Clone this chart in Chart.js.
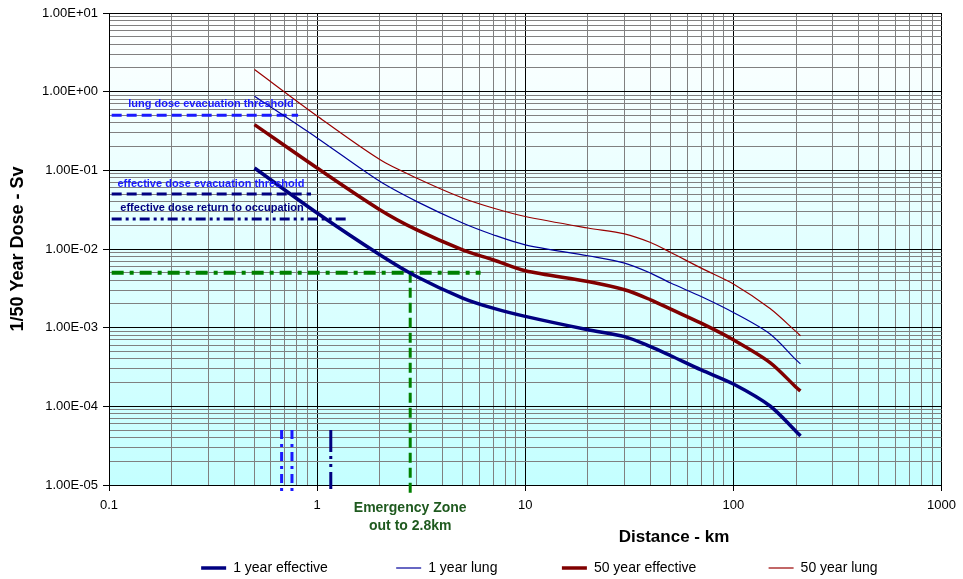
<!DOCTYPE html>
<html>
<head>
<meta charset="utf-8">
<script src="https://cdn.jsdelivr.net/npm/chart.js@4.4.0/dist/chart.umd.min.js"></script>
<style>
  body { margin: 0; background: #fff; }
  canvas { display: block; }
</style>
</head>
<body>
<canvas id="doseChart" width="963" height="579"></canvas>
<script>
// distances (km) and doses (Sv)
var distKm = [0.5, 1, 2, 3, 5, 7, 10, 20, 30, 40, 50, 70, 100, 150, 200, 210];
var oneYearEffective = [0.107, 0.0287, 0.00845, 0.00447, 0.00238, 0.00177, 0.00139, 9.4e-4, 7.7e-4, 5.75e-4, 4.4e-4, 2.9e-4, 1.92e-4, 1.01e-4, 4.8e-5, 4.2e-5];
var oneYearLung = [0.873, 0.258, 0.0724, 0.0403, 0.0214, 0.0152, 0.0113, 0.0082, 0.00662, 0.00494, 0.00369, 0.00249, 0.00156, 8.3e-4, 3.9e-4, 3.47e-4];
var fiftyYearEffective = [0.381, 0.107, 0.0316, 0.0176, 0.00977, 0.0073, 0.00528, 0.00386, 0.00303, 0.00226, 0.00172, 0.00114, 7.0e-4, 3.6e-4, 1.75e-4, 1.57e-4];
var fiftyYearLung = [1.91, 0.49, 0.137, 0.080, 0.0445, 0.0332, 0.0259, 0.0185, 0.0156, 0.0121, 0.00904, 0.00571, 0.0036, 1.75e-3, 8.9e-4, 7.9e-4];

var seriesNames = ['1 year effective', '1 year lung', '50 year effective', '50 year lung'];

// thresholds and markers
var lungEvacThreshold = 0.5;
var effEvacThreshold = 0.05;
var returnThreshold = 0.024;
var emergencyDose = 0.005;
var emergencyKm = 2.8;
var thresholdStartKm = 0.103;
var lungEvacEndKm = 0.81;
var effEvacEndKm = 0.935;
var returnEndKm = 1.42;
var emergencyLineEndKm = 6.1;
var lungMarkersKm = [0.675, 0.757];
var returnMarkerKm = 1.163;
var markerTop = 5e-5;
var markerBottom = 7.5e-6;

var xTickLabels = ['0.1', '1', '10', '100', '1000'];

function pts(xs, ys) {
    return xs.map(function(x, i) { return {x: x, y: ys[i]}; });
}

function isMajor(v) {
    var l = Math.log10(v);
    return Math.abs(l - Math.round(l)) < 1e-6;
}

function logTicks(lo, hi) {
    var out = [];
    for (var e = lo; e < hi; e++) {
        for (var m = 1; m < 10; m++) {
            out.push({value: Number((m * Math.pow(10, e)).toPrecision(6))});
        }
    }
    out.push({value: Math.pow(10, hi)});
    return out;
}

function sciLabel(v) {
    var e = Math.round(Math.log10(v));
    return '1.00E' + (e < 0 ? '-' : '+') + String(Math.abs(e)).padStart(2, '0');
}

var FONT = '"Liberation Sans", Arial, sans-serif';

var decor = {
    id: 'decor',
    beforeDraw: function(chart) {
        var ctx = chart.ctx, a = chart.chartArea;
        ctx.save();
        ctx.fillStyle = '#fff';
        ctx.fillRect(0, 0, chart.width, chart.height);
        var g = ctx.createLinearGradient(0, a.top, 0, a.bottom);
        g.addColorStop(0, '#ffffff');
        g.addColorStop(1, '#c4ffff');
        ctx.fillStyle = g;
        ctx.fillRect(a.left, a.top, a.right - a.left, a.bottom - a.top);
        ctx.restore();
    },
    afterDraw: function(chart) {
        var ctx = chart.ctx, xs = chart.scales.x, ys = chart.scales.y;
        ctx.save();
        ctx.textAlign = 'center';
        ctx.textBaseline = 'middle';
        ctx.font = 'bold 11px ' + FONT;
        ctx.fillStyle = '#1a1aff';
        ctx.fillText('lung dose evacuation threshold', 211, ys.getPixelForValue(lungEvacThreshold) - 11);
        ctx.fillText('effective dose evacuation threshold', 211, ys.getPixelForValue(effEvacThreshold) - 10);
        ctx.fillStyle = '#000080';
        ctx.fillText('effective dose return to occupation', 212, ys.getPixelForValue(returnThreshold) - 11);

        ctx.font = 'bold 14px ' + FONT;
        ctx.fillStyle = '#1f5a1f';
        var ex = xs.getPixelForValue(emergencyKm);
        ctx.fillText('Emergency Zone', ex, 508);
        ctx.fillText('out to 2.8km', ex, 526);

        ctx.font = 'bold 17px ' + FONT;
        ctx.fillStyle = '#000';
        ctx.fillText('Distance - km', 674, 537);
        ctx.restore();
    }
};

function gridColor(c) {
    return c.tick && isMajor(c.tick.value) ? '#000' : '#808080';
}
function tickColor(c) {
    return c.tick && isMajor(c.tick.value) ? '#000' : 'rgba(0,0,0,0)';
}

// trailing spaces widen each legend entry to the spacing of the original
var legendPad = [15, 14, 16, 15];

var ctx = document.getElementById('doseChart');
new Chart(ctx, {
    type: 'line',
    data: {
        datasets: [
            {label: seriesNames[0], data: pts(distKm, oneYearEffective), borderColor: '#000080', borderWidth: 3.5},
            {label: seriesNames[1], data: pts(distKm, oneYearLung), borderColor: '#00009a', borderWidth: 1.2},
            {label: seriesNames[2], data: pts(distKm, fiftyYearEffective), borderColor: '#800000', borderWidth: 3.5},
            {label: seriesNames[3], data: pts(distKm, fiftyYearLung), borderColor: '#990000', borderWidth: 1.2},
            {label: 'lung evac', data: pts([thresholdStartKm, lungEvacEndKm], [lungEvacThreshold, lungEvacThreshold]),
                borderColor: '#1a1aff', borderWidth: 3, borderDash: [10, 5], tension: 0},
            {label: 'eff evac', data: pts([thresholdStartKm, effEvacEndKm], [effEvacThreshold, effEvacThreshold]),
                borderColor: '#000080', borderWidth: 3, borderDash: [10, 5], tension: 0},
            {label: 'return', data: pts([thresholdStartKm, returnEndKm], [returnThreshold, returnThreshold]),
                borderColor: '#000080', borderWidth: 3, borderDash: [10, 4, 3, 4, 3, 4], tension: 0},
            {label: 'emergency h', data: pts([thresholdStartKm, emergencyLineEndKm], [emergencyDose, emergencyDose]),
                borderColor: '#008000', borderWidth: 4, borderDash: [12, 6, 4, 6], tension: 0},
            {label: 'emergency v', data: pts([emergencyKm, emergencyKm], [emergencyDose, markerBottom]),
                borderColor: '#008000', borderWidth: 3, borderDash: [10, 5], tension: 0, clip: false},
            {label: 'lung marker 1', data: pts([lungMarkersKm[0], lungMarkersKm[0]], [markerTop, markerBottom]),
                borderColor: '#1a1aff', borderWidth: 3, borderDash: [9, 5, 3, 5], tension: 0, clip: false},
            {label: 'lung marker 2', data: pts([lungMarkersKm[1], lungMarkersKm[1]], [markerTop, markerBottom]),
                borderColor: '#1a1aff', borderWidth: 3, borderDash: [9, 5, 3, 5], tension: 0, clip: false},
            {label: 'return marker', data: pts([returnMarkerKm, returnMarkerKm], [markerTop, 8.9e-6]),
                borderColor: '#000080', borderWidth: 3, borderDash: [22, 4, 3, 5, 3, 5], tension: 0, clip: false}
        ]
    },
    options: {
        responsive: false,
        animation: false,
        devicePixelRatio: 1,
        layout: {padding: {top: 13, right: 17, left: 0, bottom: -6}},
        elements: {
            point: {radius: 0, hoverRadius: 0},
            line: {tension: 0.3, borderCapStyle: 'butt', fill: false}
        },
        plugins: {
            tooltip: {enabled: false},
            legend: {
                position: 'bottom',
                align: 'end',
                labels: {
                    generateLabels: function(chart) {
                        var items = Chart.defaults.plugins.legend.labels.generateLabels(chart);
                        items.forEach(function(it) {
                            if (it.datasetIndex < 4) it.text = it.text + '\u00a0'.repeat(legendPad[it.datasetIndex]);
                        });
                        return items;
                    },
                    filter: function(item) { return item.datasetIndex < 4; },
                    usePointStyle: true,
                    pointStyle: 'line',
                    pointStyleWidth: 25,
                    padding: 10,
                    color: '#000',
                    font: {family: FONT, size: 14}
                }
            }
        },
        scales: {
            x: {
                type: 'logarithmic',
                min: 0.1,
                max: 1000,
                afterBuildTicks: function(scale) { scale.ticks = logTicks(-1, 3); },
                afterFit: function(scale) { scale.height = 66; },
                ticks: {
                    autoSkip: false,
                    maxRotation: 0,
                    padding: 7,
                    color: '#000',
                    font: {family: FONT, size: 13},
                    callback: function(v) {
                        if (!isMajor(v)) return '';
                        return xTickLabels[Math.round(Math.log10(v)) + 1];
                    }
                },
                grid: {color: gridColor, tickColor: tickColor, tickLength: 6, lineWidth: 1},
                border: {color: '#000', width: 1}
            },
            y: {
                type: 'logarithmic',
                min: 1e-5,
                max: 10,
                afterBuildTicks: function(scale) { scale.ticks = logTicks(-5, 1); },
                afterFit: function(scale) { scale.width = 109; },
                ticks: {
                    autoSkip: false,
                    padding: 5,
                    color: '#000',
                    font: {family: FONT, size: 13},
                    callback: function(v) { return isMajor(v) ? sciLabel(v) : ''; }
                },
                grid: {color: gridColor, tickColor: tickColor, tickLength: 6, lineWidth: 1},
                border: {color: '#000', width: 1},
                title: {
                    display: true,
                    text: '1/50 Year Dose - Sv',
                    color: '#000',
                    font: {family: FONT, size: 18, weight: 'bold'},
                    padding: {top: 7, bottom: 0}
                }
            }
        }
    },
    plugins: [decor]
});
</script>
</body>
</html>
